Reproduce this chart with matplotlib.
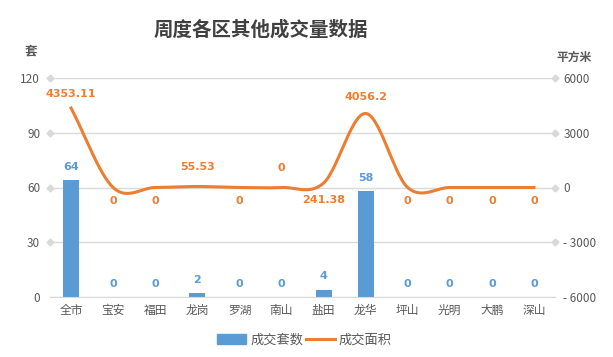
import numpy as np
import matplotlib
matplotlib.use("Agg")
import matplotlib.pyplot as plt
from matplotlib.lines import Line2D
from matplotlib.patches import Patch

plt.rcParams['font.family'] = ['Noto Sans CJK SC', 'DejaVu Sans']

categories = ['全市', '宝安', '福田', '龙岗', '罗湖', '南山', '盐田', '龙华', '坪山', '光明', '大鹏', '深山']
units = [64, 0, 0, 2, 0, 0, 4, 58, 0, 0, 0, 0]
area = [4353.11, 0, 0, 55.53, 0, 0, 241.38, 4056.2, 0, 0, 0, 0]
area_labels = ['4353.11', '0', '0', '55.53', '0', '0', '241.38', '4056.2', '0', '0', '0', '0']
left_ticks = [0, 30, 60, 90, 120]
right_ticks = [-6000, -3000, 0, 3000, 6000]

BLUE = '#5B9BD5'
ORANGE = '#ED7D31'
GRID = '#D9D9D9'
TXT = '#595959'

def catmull_rom(x, y, n=30):
    x = np.asarray(x, float); y = np.asarray(y, float)
    px = np.concatenate([[2*x[0]-x[1]], x, [2*x[-1]-x[-2]]])
    py = np.concatenate([[2*y[0]-y[1]], y, [2*y[-1]-y[-2]]])
    xs, ys = [], []
    t = np.linspace(0, 1, n)
    for i in range(1, len(px)-2):
        p0, p1, p2, p3 = px[i-1], px[i], px[i+1], px[i+2]
        q0, q1, q2, q3 = py[i-1], py[i], py[i+1], py[i+2]
        c1x, c1y = p1 + (p2-p0)/6, q1 + (q2-q0)/6
        c2x, c2y = p2 - (p3-p1)/6, q2 - (q3-q1)/6
        bx = (1-t)**3*p1 + 3*(1-t)**2*t*c1x + 3*(1-t)*t**2*c2x + t**3*p2
        by = (1-t)**3*q1 + 3*(1-t)**2*t*c1y + 3*(1-t)*t**2*c2y + t**3*q2
        xs.append(bx); ys.append(by)
    return np.concatenate(xs), np.concatenate(ys)

fig = plt.figure(figsize=(6.13, 3.57), dpi=100)
ax = fig.add_axes([50/613, 1-297/357, 505/613, 219/357])
x = np.arange(len(categories))

ax.set_ylim(0, 120)
ax.set_xlim(-0.5, len(categories)-0.5)
ax.set_yticks(left_ticks)
for t in left_ticks:
    ax.axhline(t, color=GRID, lw=1, zorder=0)
ax.bar(x, units, width=0.38, color=BLUE, zorder=2)
for xi, v in zip(x, units):
    ax.text(xi, v + 4.5, str(v), ha='center', va='bottom', color=BLUE,
            fontsize=8, fontweight='bold', family=['DejaVu Sans'])

ax.set_xticks(x)
ax.set_xticklabels(categories, fontsize=8.5, color=TXT)
ax.tick_params(axis='x', length=0, pad=5)
ax.tick_params(axis='y', length=0, labelsize=8.5, labelcolor=TXT, pad=7)
for s in ['top', 'right', 'left']:
    ax.spines[s].set_visible(False)
ax.spines['bottom'].set_color(GRID)
ax.plot(np.full(len(left_ticks) - 1, -0.5), left_ticks[1:], 'D', color=GRID, ms=3.5,
        clip_on=False, zorder=1)

ax2 = ax.twinx()
ax2.set_ylim(-6000, 6000)
ax2.set_yticks(right_ticks)
ax2.set_yticklabels([str(t).replace('-', '- ') for t in right_ticks])
ax2.tick_params(axis='y', length=0, labelsize=8.5, labelcolor=TXT, pad=6)
for s in ax2.spines.values():
    s.set_visible(False)
ax2.plot(np.full(len(right_ticks) - 1, len(categories)-0.5), right_ticks[1:], 'D',
         color=GRID, ms=3.5, clip_on=False, zorder=1)

sx, sy = catmull_rom(x, area)
ax2.plot(sx, sy, color=ORANGE, lw=2.2, zorder=3)

offs = [(0, 10), (0, -10), (0, -10), (0, 14), (0, -10), (0, 14), (0, -12), (0, 12),
        (0, -10), (0, -10), (0, -10), (0, -10)]
for xi, v, lab, (dx, dy) in zip(x, area, area_labels, offs):
    ax2.annotate(lab, (xi, v), xytext=(dx, dy), textcoords='offset points',
                 ha='center', va='center', color=ORANGE, fontsize=8,
                 fontweight='bold', family=['DejaVu Sans'])

fig.text(0.425, 1-30/357, '周度各区其他成交量数据', ha='center', va='center',
         fontsize=14, color='#404040', fontweight='semibold')
fig.text(31/613, 1-51/357, '套', ha='center', va='center', fontsize=9,
         color=TXT, fontweight='bold')
fig.text(574/613, 1-57/357, '平方米', ha='center', va='center', fontsize=8.5,
         color=TXT, fontweight='bold')

handles = [Patch(color=BLUE), Line2D([0], [0], color=ORANGE, lw=2.2)]
fig.legend(handles, ['成交套数', '成交面积'], loc='center', bbox_to_anchor=(0.497, 1-340/357),
           ncol=2, frameon=False, fontsize=9.5, labelcolor=TXT, handlelength=2.2,
           columnspacing=0.2, handletextpad=0.3)

fig.savefig('out.png', dpi=100)
